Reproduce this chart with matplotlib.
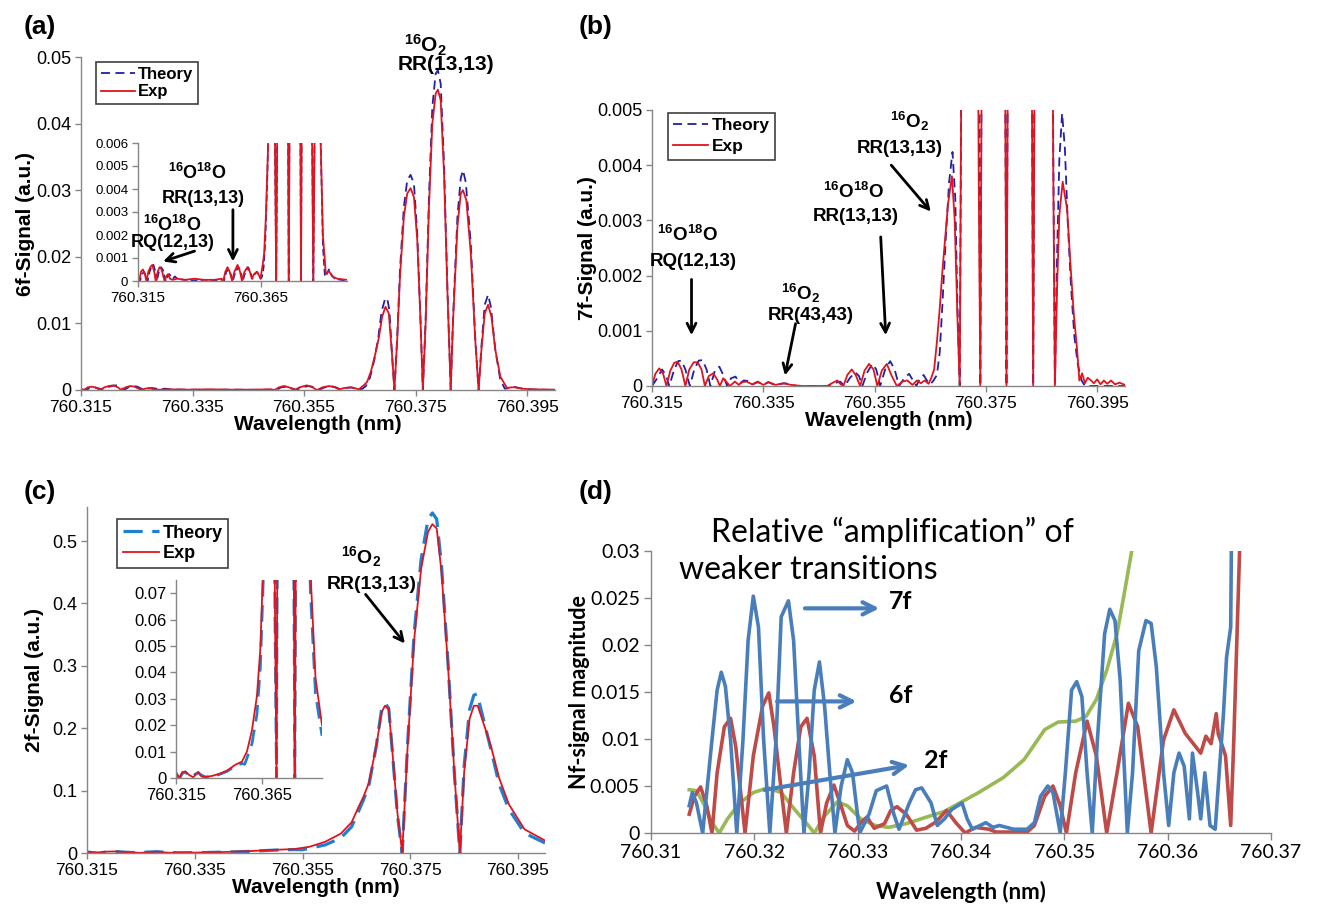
import matplotlib
matplotlib.use("Agg")
import matplotlib.pyplot as plt
from matplotlib.ticker import FuncFormatter, MultipleLocator, FixedLocator
from matplotlib.lines import Line2D

plt.rcParams['font.family'] = ['Liberation Sans', 'DejaVu Sans']
plt.rcParams['mathtext.fontset'] = 'custom'
plt.rcParams['mathtext.rm'] = 'Liberation Sans:bold'
plt.rcParams['mathtext.bf'] = 'Liberation Sans:bold'
plt.rcParams['mathtext.it'] = 'Liberation Sans:bold'
plt.rcParams['mathtext.default'] = 'rm'

# ---------------- data (wavelength nm, signal a.u.) ----------------
a_exp = [(760.3150,0.00015),(760.3155,0),(760.3162,0.0004),(760.3170,0.0005),(760.3178,0.0003),(760.3184,0),
         (760.3192,0.0004),(760.3200,0.0006),(760.3208,0.0007),(760.3216,0.0004),(760.3222,0),(760.3230,0.0004),
         (760.3238,0.0006),(760.3246,0.0005),(760.3253,0.0002),(760.3258,0),(760.3265,0.0002),(760.3272,0.0003),
         (760.3280,0.0001),(760.3290,0.00005),(760.3310,0.0001),(760.3340,0.00005),(760.3380,0.0001),(760.3420,0.00005),
         (760.3460,0.00005),(760.3490,0.0001),(760.3497,0),(760.3505,0.0004),(760.3514,0.0006),(760.3523,0.0004),
         (760.3533,0),(760.3542,0.0004),(760.3555,0.0007),(760.3565,0.0004),(760.3573,0),(760.3583,0.0004),
         (760.3595,0.0006),(760.3605,0.0004),(760.3613,0.0001),(760.3622,0.0003),(760.3633,0.0004),(760.3640,0.0003),
         (760.3648,0.0001),(760.3651,0.0003),(760.3657,0.0007),(760.3663,0.0012),(760.3670,0.0028),(760.3678,0.0055),
         (760.3684,0.0078),(760.3690,0.011),(760.3696,0.0125),(760.3702,0.0115),(760.3708,0.005),(760.3712,0),
         (760.3717,0.0075),(760.3722,0.017),(760.3729,0.026),(760.3735,0.0295),(760.3741,0.0303),(760.3747,0.029),
         (760.3753,0.0225),(760.3759,0.01),(760.3763,0),(760.3768,0.01),(760.3774,0.0275),(760.3780,0.04),
         (760.3786,0.0445),(760.3790,0.0451),(760.3795,0.0435),(760.3801,0.0325),(760.3807,0.015),(760.3813,0),
         (760.3817,0.01),(760.3825,0.0245),(760.3831,0.0295),(760.3835,0.030),(760.3841,0.0285),(760.3849,0.0205),
         (760.3857,0.0075),(760.3863,0),(760.3868,0.006),(760.3874,0.0115),(760.3880,0.0128),(760.3886,0.011),
         (760.3893,0.006),(760.3902,0.002),(760.3914,0.0003),(760.3922,0.0004),(760.3929,0.0004),(760.3940,0.0002),
         (760.3960,0.0001),(760.3999,0.00005)]
a_theory = [(760.3150,0.0001),(760.3158,0),(760.3166,0.0003),(760.3175,0.0004),(760.3183,0.0002),(760.3189,0),
         (760.3197,0.0004),(760.3205,0.0006),(760.3213,0.0007),(760.3221,0.0004),(760.3227,0),(760.3235,0.0004),
         (760.3243,0.0006),(760.3251,0.0005),(760.3258,0.0002),(760.3263,0),(760.3270,0.0002),(760.3277,0.0003),
         (760.3285,0.0002),(760.3292,0.0001),(760.3300,0.0002),(760.3310,0.0001),(760.3340,0.00005),(760.3380,0.00003),
         (760.3420,0.00005),(760.3460,0.00003),(760.3492,0.00005),(760.3500,0),(760.3509,0.0004),(760.3518,0.0005),
         (760.3527,0.0003),(760.3536,0),(760.3546,0.0004),(760.3559,0.0006),(760.3568,0.0004),(760.3576,0),
         (760.3587,0.0004),(760.3598,0.0006),(760.3607,0.0004),(760.3615,0.0001),(760.3625,0.0003),(760.3635,0.0004),
         (760.3642,0.0002),(760.3650,0.0001),(760.3655,0.0002),(760.3661,0.0006),(760.3668,0.0018),(760.3676,0.0045),
         (760.3683,0.0078),(760.3689,0.0118),(760.3695,0.0136),(760.3699,0.0138),(760.3703,0.012),(760.3708,0.005),
         (760.3712,0),(760.3717,0.0078),(760.3722,0.018),(760.3729,0.0275),(760.3735,0.0315),(760.3741,0.0323),
         (760.3747,0.031),(760.3753,0.0235),(760.3759,0.01),(760.3763,0),(760.3768,0.0105),(760.3774,0.029),
         (760.3780,0.0425),(760.3786,0.0475),(760.3790,0.048),(760.3795,0.046),(760.3801,0.034),(760.3807,0.0155),
         (760.3813,0),(760.3817,0.0105),(760.3825,0.026),(760.3831,0.0318),(760.3835,0.033),(760.3840,0.0312),
         (760.3849,0.022),(760.3857,0.0078),(760.3863,0),(760.3868,0.0065),(760.3874,0.0128),(760.3880,0.0143),
         (760.3885,0.0125),(760.3893,0.006),(760.3902,0.0015),(760.3910,0.0002),(760.3918,0.0003),(760.3926,0.0005),
         (760.3935,0.0003),(760.3950,0.0001),(760.3999,0)]

b_exp = [(760.3150,0),(760.3156,0.00022),(760.3163,0.00032),(760.3170,0.00022),(760.3176,0),(760.3183,0.00028),
         (760.3190,0.00042),(760.3196,0.00044),(760.3203,0.0003),(760.3210,0),(760.3217,0.0003),(760.3225,0.00043),
         (760.3232,0.00043),(760.3239,0.0003),(760.3245,0),(760.3252,0.00018),(760.3260,0.00023),(760.3267,0.00012),
         (760.3272,0),(760.3278,0.00014),(760.3285,0.00006),(760.3290,0),(760.3299,0.00008),(760.3306,0.00002),
         (760.3312,0.00007),(760.3320,0.00008),(760.3330,0.00003),(760.3340,0.00008),(760.3350,0.00002),
         (760.3360,0.00007),(760.3372,0.00002),(760.3385,0.00005),(760.3400,0.00002),(760.3420,0),(760.3465,0),
         (760.3475,0.00006),(760.3483,0.0001),(760.3489,0.00003),(760.3494,0),(760.3501,0.0002),(760.3509,0.0003),
         (760.3516,0.0002),(760.3524,0),(760.3532,0.00028),(760.3540,0.0004),(760.3548,0.0003),(760.3555,0),
         (760.3563,0.00028),(760.3572,0.0004),(760.3580,0.0002),(760.3590,0),(760.3600,0.00008),(760.3609,0.0001),
         (760.3618,0.00002),(760.3626,0.0001),(760.3633,0.00005),(760.3640,0.0001),(760.3647,0.00004),
         (760.3652,0.00015),(760.3657,0.0003),(760.3662,0.0008),(760.3667,0.0014),(760.3672,0.0021),(760.3677,0.0027),
         (760.3682,0.0033),(760.3689,0.0038),(760.3694,0.003),(760.3699,0.0012),(760.3703,0),(760.3705,0.004),
         (760.3708,0.010),(760.3714,0.016),(760.3721,0.018),(760.3728,0.016),(760.3734,0.010),(760.3737,0.004),
         (760.3740,0),(760.37425,0.006),(760.3746,0.014),(760.3754,0.026),(760.3763,0.030),(760.3772,0.026),
         (760.3780,0.014),(760.37845,0.006),(760.3787,0),(760.37895,0.006),(760.3794,0.014),(760.3802,0.026),
         (760.3811,0.030),(760.3820,0.026),(760.3828,0.014),(760.38325,0.006),(760.3835,0),(760.38375,0.006),
         (760.3841,0.010),(760.3848,0.016),(760.3855,0.018),(760.3862,0.016),(760.3868,0.010),(760.3871,0.004),
         (760.3874,0),(760.3878,0.0018),(760.3882,0.0031),(760.3888,0.0037),(760.3896,0.0032),(760.3902,0.0022),
         (760.3908,0.0013),(760.3914,0.00065),(760.3918,0.0001),(760.3923,0.00023),(760.3928,0.00005),
         (760.3933,0.00015),(760.3939,0.0001),(760.3944,0.00005),(760.3950,0.00012),(760.3956,0.00003),
         (760.3962,0.0001),(760.3968,0.00004),(760.3975,0.0001),(760.3982,0.00003),(760.3990,0.00006),(760.4000,0.00002)]
b_theory = [(760.3150,0),(760.3160,0.00015),(760.3168,0.0003),(760.3175,0.0002),(760.3181,0),(760.3190,0.0003),
         (760.3197,0.00045),(760.3203,0.00046),(760.3210,0.0003),(760.3218,0),(760.3226,0.0003),(760.3234,0.00046),
         (760.3241,0.00047),(760.3248,0.0003),(760.3255,0),(760.3263,0.00028),(760.3271,0.00035),(760.3278,0.0002),
         (760.3285,0),(760.3292,0.00014),(760.3300,0.00017),(760.3308,0.00005),(760.3315,0.0001),(760.3323,0.00009),
         (760.3331,0.00003),(760.3340,0.00007),(760.3350,0.00003),(760.3359,0.00007),(760.3370,0.00002),
         (760.3389,0.00005),(760.3410,0),(760.3465,0),(760.3478,0.00005),(760.3488,0.00008),(760.3496,0),
         (760.3506,0.00015),(760.3515,0.00025),(760.3522,0.00018),(760.3528,0),(760.3537,0.00025),(760.3546,0.0004),
         (760.3553,0.0003),(760.3560,0),(760.3569,0.0003),(760.3578,0.00045),(760.3586,0.0003),(760.3594,0),
         (760.3604,0.00015),(760.3612,0.00022),(760.3619,0.0001),(760.3625,0),(760.3632,0.00015),(760.3638,0.0002),
         (760.3644,0.0001),(760.3650,0.00003),(760.3656,0.0001),(760.3662,0.0002),(760.3667,0.0006),(760.3672,0.0015),
         (760.3678,0.0027),(760.3684,0.0037),(760.3690,0.00424),(760.3695,0.0034),(760.3699,0.0014),(760.3703,0),
         (760.37055,0.005),(760.3709,0.0115),(760.3714,0.0175),(760.3721,0.0195),(760.3728,0.0175),(760.3734,0.0115),
         (760.37375,0.005),(760.3740,0),(760.37425,0.0065),(760.3746,0.015),(760.3754,0.028),(760.3763,0.032),
         (760.3772,0.028),(760.3780,0.015),(760.37845,0.0065),(760.3787,0),(760.37895,0.0065),(760.3794,0.015),
         (760.3802,0.028),(760.3811,0.032),(760.3820,0.028),(760.3828,0.015),(760.38325,0.0065),(760.3835,0),
         (760.38375,0.0065),(760.3841,0.011),(760.3848,0.0175),(760.3855,0.0195),(760.3862,0.0175),(760.3868,0.011),
         (760.3871,0.0045),(760.3874,0),(760.3878,0.0024),(760.3882,0.0041),(760.3887,0.00494),(760.3892,0.0043),
         (760.3897,0.003),(760.3903,0.0018),(760.3909,0.0009),(760.3915,0.0004),(760.3922,0.0001),(760.3928,0),
         (760.4000,0)]

c_exp = [(760.3150,0.0023),(760.3169,0),(760.3186,0.0022),(760.3204,0.0025),(760.3225,0.0012),(760.3250,0.0003),
         (760.3265,0.0012),(760.3280,0.0023),(760.3290,0.0012),(760.3301,0.0005),(760.3330,0.0004),(760.3360,0.0008),
         (760.3400,0.0015),(760.3447,0.0028),(760.3495,0.005),(760.3534,0.0062),(760.3563,0.01),(760.3592,0.018),
         (760.3621,0.031),(760.3641,0.049),(760.3653,0.072),(760.3663,0.09),(760.3673,0.112),(760.3687,0.172),
         (760.3697,0.226),(760.3703,0.236),(760.3710,0.23),(760.3717,0.16),(760.3726,0.065),(760.3735,0),
         (760.3745,0.17),(760.3757,0.34),(760.3770,0.455),(760.3783,0.515),(760.3791,0.527),(760.3799,0.52),
         (760.3808,0.45),(760.3820,0.30),(760.3832,0.125),(760.3842,0),(760.3850,0.13),(760.3860,0.215),
         (760.3868,0.236),(760.3875,0.236),(760.3887,0.205),(760.3900,0.17),(760.3915,0.12),(760.3933,0.078),
         (760.3962,0.038),(760.4000,0.02)]
c_theory = [(760.3150,0.0015),(760.3162,0.0005),(760.3172,0),(760.3188,0.0018),(760.3204,0.0022),(760.3222,0.0012),
         (760.3245,0.0004),(760.3262,0.0015),(760.3280,0.002),(760.3295,0.0012),(760.3320,0.0004),(760.3360,0.0006),
         (760.3400,0.0013),(760.3447,0.0025),(760.3495,0.0045),(760.3534,0.0055),(760.3550,0.0052),(760.3563,0.0075),
         (760.3592,0.013),(760.3621,0.024),(760.3641,0.042),(760.3653,0.065),(760.3663,0.085),(760.3673,0.108),
         (760.3687,0.172),(760.3697,0.232),(760.3703,0.24),(760.3710,0.232),(760.3717,0.16),(760.3726,0.062),
         (760.3735,0),(760.3745,0.175),(760.3757,0.35),(760.3770,0.47),(760.3783,0.535),(760.3791,0.545),
         (760.3799,0.535),(760.3808,0.46),(760.3820,0.305),(760.3832,0.125),(760.3842,0),(760.3850,0.14),
         (760.3860,0.23),(760.3868,0.253),(760.3874,0.255),(760.3887,0.21),(760.3900,0.165),(760.3915,0.11),
         (760.3933,0.07),(760.3962,0.032),(760.4000,0.016)]

d_7f = [(760.3137,0.0029),(760.3140,0.0043),(760.3144,0.0032),(760.3150,0),(760.3159,0.0099),(760.3164,0.0152),
        (760.3168,0.0171),(760.3172,0.0156),(760.3177,0.0099),(760.3183,0),(760.3189,0.0099),(760.3194,0.0205),
        (760.3199,0.0252),(760.3204,0.0219),(760.3209,0.0099),(760.3215,0),(760.3221,0.0099),(760.3226,0.0230),
        (760.3233,0.0247),(760.3238,0.0205),(760.3243,0.0099),(760.3248,0),(760.3253,0.0064),(760.3258,0.0152),
        (760.3263,0.0182),(760.3268,0.0135),(760.3273,0.0064),(760.3278,0),(760.3284,0.005),(760.3290,0.0078),
        (760.3295,0.0064),(760.3302,0),(760.3311,0.002),(760.3318,0.0045),(760.3328,0.005),(760.3335,0.002),
        (760.3340,0.0004),(760.3350,0.0032),(760.3356,0.0046),(760.3362,0.0048),(760.3371,0.0032),(760.3377,0.0008),
        (760.3384,0.0015),(760.3391,0.0025),(760.3401,0.0032),(760.3406,0.0015),(760.3411,0.0004),(760.3424,0.0011),
        (760.3431,0.0006),(760.3437,0.0008),(760.3451,0.0004),(760.3464,0.0004),(760.3471,0.0011),(760.3477,0.0039),
        (760.3484,0.005),(760.3489,0.0043),(760.3496,0),(760.3501,0.0064),(760.3507,0.0152),(760.3512,0.0161),
        (760.3517,0.0145),(760.3522,0.0064),(760.3527,0),(760.3532,0.0099),(760.3539,0.0212),(760.3544,0.0238),
        (760.3549,0.0226),(760.3554,0.0163),(760.3561,0),(760.3566,0.0064),(760.3572,0.0194),(760.3579,0.0226),
        (760.3584,0.0223),(760.3589,0.0177),(760.3596,0.0064),(760.3601,0.0008),(760.3606,0.0064),(760.3611,0.0085),
        (760.3616,0.0071),(760.3621,0.0015),(760.3624,0.0085),(760.3629,0.0043),(760.3632,0.0015),(760.3636,0.0064),
        (760.3641,0.0008),(760.3646,0.0004),(760.3651,0.0082),(760.3654,0.0127),(760.3657,0.0187),(760.3661,0.0219),
        (760.3662,0.035)]
d_6f = [(760.3137,0.002),(760.3142,0.0039),(760.3148,0.0049),(760.3154,0.0029),(760.3159,0),(760.3164,0.0064),
        (760.3171,0.0113),(760.3177,0.0122),(760.3182,0.0092),(760.3191,0),(760.3199,0.0082),(760.3208,0.0135),
        (760.3214,0.0149),(760.3219,0.0113),(760.3226,0.0046),(760.3231,0),(760.3238,0.0064),(760.3245,0.0113),
        (760.3251,0.0122),(760.3258,0.0082),(760.3264,0),(760.3270,0.0032),(760.3277,0.0051),(760.3283,0.0032),
        (760.3290,0.0008),(760.3297,0.0002),(760.3304,0.0012),(760.3309,0.0017),(760.3316,0.0005),(760.3326,0.001),
        (760.3332,0.0024),(760.3338,0.0028),(760.3347,0.002),(760.3357,0.0003),(760.3366,0.0005),(760.3376,0.0012),
        (760.3386,0.0024),(760.3395,0.0011),(760.3404,0),(760.3414,0.0006),(760.3427,0.0004),(760.3434,0.0001),
        (760.3451,0.0001),(760.3464,0.0001),(760.3471,0.0008),(760.3481,0.0039),(760.3489,0.005),(760.3496,0.0029),
        (760.3502,0),(760.3511,0.0064),(760.3522,0.0119),(760.3531,0.0082),(760.3541,0),(760.3551,0.0064),
        (760.3562,0.0138),(760.3571,0.0113),(760.3584,0),(760.3596,0.0099),(760.3606,0.0131),(760.3617,0.0106),
        (760.3627,0.0092),(760.3632,0.0085),(760.3637,0.0103),(760.3642,0.0095),(760.3647,0.0127),(760.3649,0.0105),
        (760.3651,0.0099),(760.3656,0.0082),(760.3661,0.0008),(760.3664,0.0099),(760.3671,0.035)]
d_2f = [(760.3137,0.0046),(760.3144,0.0045),(760.3152,0.0029),(760.3159,0.0011),(760.3166,0),(760.3174,0.0015),
        (760.3186,0.0032),(760.3199,0.0043),(760.3213,0.0048),(760.3226,0.0043),(760.3239,0.0025),(760.3250,0.0011),
        (760.3258,0),(760.3268,0.0018),(760.3280,0.0033),(760.3290,0.0029),(760.3303,0.0015),(760.3317,0.0008),
        (760.3330,0.0006),(760.3347,0.001),(760.3364,0.0016),(760.3384,0.0023),(760.3417,0.0043),(760.3441,0.0059),
        (760.3461,0.0078),(760.3481,0.011),(760.3494,0.0118),(760.3511,0.0119),(760.3521,0.0124),(760.3531,0.0142),
        (760.3541,0.0173),(760.3551,0.0212),(760.3559,0.0261),(760.3566,0.0305)]

wl_ticks_abc = [760.315, 760.335, 760.355, 760.375, 760.395]
wl_ticks_inset = [760.315, 760.365]
wl_ticks_d = [760.31, 760.32, 760.33, 760.34, 760.35, 760.36, 760.37]

def xs(pts): return [p[0] for p in pts]
def ys(pts): return [p[1] for p in pts]

# ---------------- figure ----------------
W, H = 1320, 908
fig = plt.figure(figsize=(W/100, H/100), dpi=100)
GRAY = '#868686'
NAVY = '#2020a8'
RED = '#e0141e'

def add_ax(l, t, r, b):
    return fig.add_axes([l/W, 1-b/H, (r-l)/W, (b-t)/H])

def style(ax, xsize=12.5, ysize=13):
    for s in ['top', 'right']:
        ax.spines[s].set_visible(False)
    for s in ['left', 'bottom']:
        ax.spines[s].set_color(GRAY)
        ax.spines[s].set_linewidth(1)
    ax.tick_params(direction='out', length=4, width=1, color=GRAY, pad=3)
    ax.tick_params(axis='x', labelsize=xsize)
    ax.tick_params(axis='y', labelsize=ysize)

gfmt = FuncFormatter(lambda v, p: '0' if abs(v) < 1e-12 else ('%g' % round(v, 6)))
f3 = FuncFormatter(lambda v, p: '%.3f' % v)
f2 = FuncFormatter(lambda v, p: '%.2f' % v)

def legend(ax, h, anchor, size=12, spacing=0.15):
    lg = ax.legend(handles=h, loc='upper left', bbox_to_anchor=anchor, frameon=True, fancybox=False,
                   edgecolor='#404040', framealpha=1, prop={'weight': 'bold', 'size': size},
                   handlelength=2.0, handletextpad=0.2, borderpad=0.3, labelspacing=spacing, borderaxespad=0)
    lg.get_frame().set_linewidth(1.2)

def arrow(ax, tail, tip, color='black', lw=2, ms=16):
    ax.annotate('', xy=tip, xytext=tail, annotation_clip=False,
                arrowprops=dict(arrowstyle='->', lw=lw, color=color, mutation_scale=ms, shrinkA=0, shrinkB=0))

def label(ax, x, y, s, size=14):
    ax.text(x, y, s, ha='center', va='center', fontsize=size, fontweight='bold', clip_on=False)

# ---- (a) ----
axa = add_ax(81, 57, 555, 390)
axa.plot(xs(a_theory), ys(a_theory), color=NAVY, lw=1.3, dashes=(5, 3))
axa.plot(xs(a_exp), ys(a_exp), color=RED, lw=1.3)
axa.set_xlim(760.315, 760.400); axa.set_ylim(0, 0.05)
axa.xaxis.set_major_locator(FixedLocator(wl_ticks_abc)); axa.xaxis.set_major_formatter(f3)
axa.yaxis.set_major_locator(MultipleLocator(0.01)); axa.yaxis.set_major_formatter(gfmt)
style(axa)
axa.set_xlabel('Wavelength (nm)', fontsize=15, fontweight='bold', labelpad=0)
axa.set_ylabel('6f-Signal (a.u.)', fontsize=15, fontweight='bold', labelpad=1)
legend(axa, [Line2D([], [], color=NAVY, lw=1.3, dashes=(5, 3), label='Theory'),
             Line2D([], [], color=RED, lw=1.3, label='Exp')], (0.032, 0.985))
label(axa, 760.3767, 0.0518, r'$^{16}$O$_2$', 15)
label(axa, 760.3805, 0.0488, 'RR(13,13)', 15)

axai = add_ax(138, 143, 347, 281)
axai.plot(xs(a_theory), ys(a_theory), color=NAVY, lw=1.2, dashes=(4, 2))
axai.plot(xs(a_exp), ys(a_exp), color=RED, lw=1.3)
axai.set_xlim(760.315, 760.400); axai.set_ylim(0, 0.006)
axai.xaxis.set_major_locator(FixedLocator(wl_ticks_inset)); axai.xaxis.set_major_formatter(f3)
axai.yaxis.set_major_locator(MultipleLocator(0.001)); axai.yaxis.set_major_formatter(gfmt)
style(axai, 11, 9.5)
axai.patch.set_alpha(0)
label(axai, 760.3391, 0.0047, r'$^{16}$O$^{18}$O', 13)
label(axai, 760.3416, 0.00357, 'RR(13,13)', 13)
label(axai, 760.3289, 0.00245, r'$^{16}$O$^{18}$O', 13)
label(axai, 760.3292, 0.00166, 'RQ(12,13)', 13)
arrow(axai, (760.3536, 0.0031), (760.3536, 0.00085))
arrow(axai, (760.3380, 0.0013), (760.3252, 0.00085))

# ---- (b) ----
axb = add_ax(652, 110, 1125, 386)
axb.plot(xs(b_theory), ys(b_theory), color=NAVY, lw=1.3, dashes=(5, 3))
axb.plot(xs(b_exp), ys(b_exp), color=RED, lw=1.3)
axb.set_xlim(760.315, 760.400); axb.set_ylim(0, 0.005)
axb.xaxis.set_major_locator(FixedLocator(wl_ticks_abc)); axb.xaxis.set_major_formatter(f3)
axb.yaxis.set_major_locator(MultipleLocator(0.001)); axb.yaxis.set_major_formatter(gfmt)
style(axb)
axb.set_xlabel('Wavelength (nm)', fontsize=15, fontweight='bold', labelpad=0)
axb.set_ylabel('7f-Signal (a.u.)', fontsize=15, fontweight='bold', labelpad=0)
legend(axb, [Line2D([], [], color=NAVY, lw=1.3, dashes=(5, 3), label='Theory'),
             Line2D([], [], color=RED, lw=1.3, label='Exp')], (0.034, 0.99), size=12.5, spacing=0.35)
label(axb, 760.3612, 0.00479, r'$^{16}$O$_2$', 13.5)
label(axb, 760.3596, 0.0043, 'RR(13,13)', 13.5)
arrow(axb, (760.3580, 0.00400), (760.3651, 0.00316))
label(axb, 760.3512, 0.00352, r'$^{16}$O$^{18}$O', 13.5)
label(axb, 760.3517, 0.00307, 'RR(13,13)', 13.5)
arrow(axb, (760.3561, 0.0027), (760.3570, 0.00092))
label(axb, 760.3213, 0.00273, r'$^{16}$O$^{18}$O', 13.5)
label(axb, 760.3224, 0.00225, 'RQ(12,13)', 13.5)
arrow(axb, (760.3221, 0.00193), (760.3221, 0.00092))
label(axb, 760.3416, 0.00167, r'$^{16}$O$_2$', 13.5)
label(axb, 760.3435, 0.00128, 'RR(43,43)', 13.5)
arrow(axb, (760.3408, 0.00113), (760.3389, 0.00019))

# ---- (c) ----
BLUE_C = '#1f7fd0'
axc = add_ax(87, 507, 545, 853)
axc.plot(xs(c_theory), ys(c_theory), color=BLUE_C, lw=2.3, dashes=(6, 3))
axc.plot(xs(c_exp), ys(c_exp), color=RED, lw=1.3)
axc.set_xlim(760.315, 760.400); axc.set_ylim(0, 0.5545)
axc.xaxis.set_major_locator(FixedLocator(wl_ticks_abc)); axc.xaxis.set_major_formatter(f3)
axc.yaxis.set_major_locator(MultipleLocator(0.1)); axc.yaxis.set_major_formatter(gfmt)
style(axc)
axc.set_xlabel('Wavelength (nm)', fontsize=15, fontweight='bold', labelpad=0)
axc.set_ylabel('2f-Signal (a.u.)', fontsize=15, fontweight='bold', labelpad=6)
legend(axc, [Line2D([], [], color=BLUE_C, lw=2.3, dashes=(6, 3), label='Theory'),
             Line2D([], [], color=RED, lw=1.3, label='Exp')], (0.066, 0.965), size=13, spacing=0.2)
label(axc, 760.3659, 0.475, r'$^{16}$O$_2$', 14)
label(axc, 760.3679, 0.430, 'RR(13,13)', 14)
arrow(axc, (760.3667, 0.4145), (760.3740, 0.3358))

axci = add_ax(176, 580, 322, 778)
axci.plot(xs(c_theory), ys(c_theory), color=BLUE_C, lw=2.0, dashes=(6, 3))
axci.plot(xs(c_exp), ys(c_exp), color=RED, lw=1.3)
axci.set_xlim(760.315, 760.400); axci.set_ylim(0, 0.075)
axci.xaxis.set_major_locator(FixedLocator(wl_ticks_inset)); axci.xaxis.set_major_formatter(f3)
axci.yaxis.set_major_locator(MultipleLocator(0.01)); axci.yaxis.set_major_formatter(gfmt)
style(axci, 12, 12)
axci.patch.set_alpha(0)

# ---- (d) ----
CAL = 'Lato'
C7, C6, C2 = '#4a7ebb', '#be4b48', '#98b954'
axd = add_ax(651, 551, 1271, 833)
axd.plot(xs(d_2f), ys(d_2f), color=C2, lw=2.6)
axd.plot(xs(d_6f), ys(d_6f), color=C6, lw=2.6)
axd.plot(xs(d_7f), ys(d_7f), color=C7, lw=2.6)
axd.set_xlim(760.31, 760.37); axd.set_ylim(0, 0.03)
axd.xaxis.set_major_locator(FixedLocator(wl_ticks_d)); axd.xaxis.set_major_formatter(f2)
axd.yaxis.set_major_locator(MultipleLocator(0.005)); axd.yaxis.set_major_formatter(gfmt)
style(axd, 14, 14)
axd.tick_params(axis='both', length=5)
for lab in axd.get_xticklabels() + axd.get_yticklabels():
    lab.set_family(CAL)
axd.set_xlabel('Wavelength (nm)', fontsize=16, fontweight='bold', family=CAL, labelpad=14)
axd.set_ylabel('Nf-signal magnitude', fontsize=15.5, fontweight='bold', family=CAL, labelpad=0)
axd.text(760.3158, 0.0320, 'Relative \u201camplification\u201d of', fontsize=23, family=CAL,
         ha='left', va='center', clip_on=False)
axd.text(760.3127, 0.0280, 'weaker transitions', fontsize=23, family=CAL, ha='left', va='center', clip_on=False)
arrow(axd, (760.3249, 0.0239), (760.3321, 0.0239), color=C7, lw=3, ms=22)
arrow(axd, (760.3222, 0.0140), (760.3299, 0.0140), color=C7, lw=3, ms=22)
arrow(axd, (760.3210, 0.00458), (760.3350, 0.00722), color=C7, lw=3, ms=22)
for xx, yy, s in [(760.3342, 0.0246, '7f'), (760.3342, 0.0146, '6f'), (760.3376, 0.00775, '2f')]:
    axd.text(xx, yy, s, fontsize=18, fontweight='bold', family=CAL, ha='center', va='center')

# panel labels
for x, y, s in [(24, 27, '(a)'), (579, 27, '(b)'), (24, 492, '(c)'), (579, 492, '(d)')]:
    fig.text(x/W, 1-y/H, s, fontsize=19, fontweight='bold', ha='left', va='center')

fig.savefig('out.png', dpi=100)
